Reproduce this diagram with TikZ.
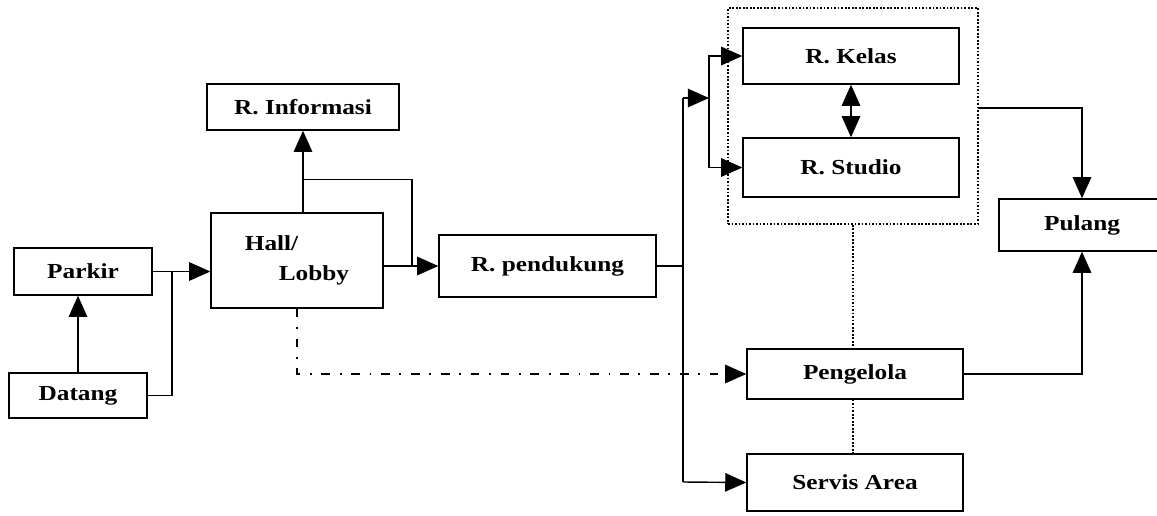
\documentclass[tikz,border=0pt]{standalone}
\usepackage{fontspec}
\setmainfont{Liberation Serif}[FakeStretch=1.18]
\usepackage{tikz}
\usetikzlibrary{calc,arrows.meta}

\begin{document}
\begin{tikzpicture}[x=0.02cm, y=-0.02cm,
    every node/.style={font=\fontsize{12.2}{14}\selectfont\bfseries},
    room/.style={draw, line width=0.8pt, inner sep=0pt},
    flow/.style={line width=0.8pt, -{Triangle[length=12pt,width=10.5pt]}},
    link/.style={line width=0.8pt}]
      \useasboundingbox (0,0) rectangle (1157,515);

      \node [room, minimum width=2.76cm, minimum height=0.94cm] (parkir) at (83, 271.5) {Parkir};
      \node [room, minimum width=2.76cm, minimum height=0.90cm] (datang) at (78, 395.5) {Datang};
      \node [room, minimum width=3.44cm, minimum height=1.90cm, align=left] (hall) at (297, 260.5)
            {Hall/\\[3pt]\hspace*{0.68cm}Lobby};
      \node [room, minimum width=3.84cm, minimum height=0.92cm] (info) at (303, 107) {R. Informasi};
      \node [room, minimum width=4.34cm, minimum height=1.24cm] (pend) at (547.5, 266) {R. pendukung};
      \node [room, minimum width=4.32cm, minimum height=1.12cm] (kelas) at (851, 56) {R. Kelas};
      \node [room, minimum width=4.32cm, minimum height=1.18cm] (studio) at (851, 167.5) {R. Studio};
      \node [room, minimum width=4.32cm, minimum height=1.00cm] (pengelola) at (855, 374) {Pengelola};
      \node [room, minimum width=4.32cm, minimum height=1.14cm] (servis) at (855, 482.5) {Servis Area};
      \node [room, minimum width=3.32cm, minimum height=1.04cm] (pulang) at (1082, 225) {Pulang};

      % ruang belajar
      \node [draw, densely dotted, line width=1pt, minimum width=5cm, minimum height=4.32cm] (grp) at (853, 116) {};

      \coordinate (jn) at (172, 271.5);
      \coordinate (br) at ($ (info.south |- hall.north)!0.4!(info.south) $);
      \coordinate (hp) at (412, 266);
      \coordinate (st) at (683, 98);
      \coordinate (sb) at (683, 482);
      \coordinate (sk) at (709, 98);
      \coordinate (gout) at (978, 108);

      \draw [flow] (datang.north) -- (datang.north |- parkir.south);
      \draw [flow] (parkir.east) -- (parkir.east -| hall.west);
      \draw [link] (datang.east) -| (jn);
      \draw [flow] (info.south |- hall.north) -- (info.south);
      \draw [link] (br) -| (hp);
      \draw [flow] (hall.east |- pend.west) -- (pend.west);

      \draw [link] (pend.east) -- (pend.east -| st);
      \draw [link] (st) -- (sb);
      \draw [flow] (st) -- (sk);
      \draw [flow] (sk) |- (kelas.west);
      \draw [flow] (sk) |- (studio.west);
      \draw [flow] (sb) -- (servis.west);
      \draw [line width=0.8pt, {Triangle[length=12pt,width=10.5pt]}-{Triangle[length=12pt,width=10.5pt]}]
            (kelas.south) -- (studio.north);

      \draw [flow] (gout) -| (pulang.north);
      \draw [flow] (pengelola.east) -| (pulang.south);

      \draw [densely dotted, line width=1pt] (grp.south) -- (grp.south |- pengelola.north);
      \draw [densely dotted, line width=1pt] (pengelola.south -| grp.south) -- (grp.south |- servis.north);

      \draw [flow, dash pattern=on 5pt off 5.5pt on 1pt off 5.5pt] (hall.south) |- (pengelola.west);
    \end{tikzpicture}
\end{document}
